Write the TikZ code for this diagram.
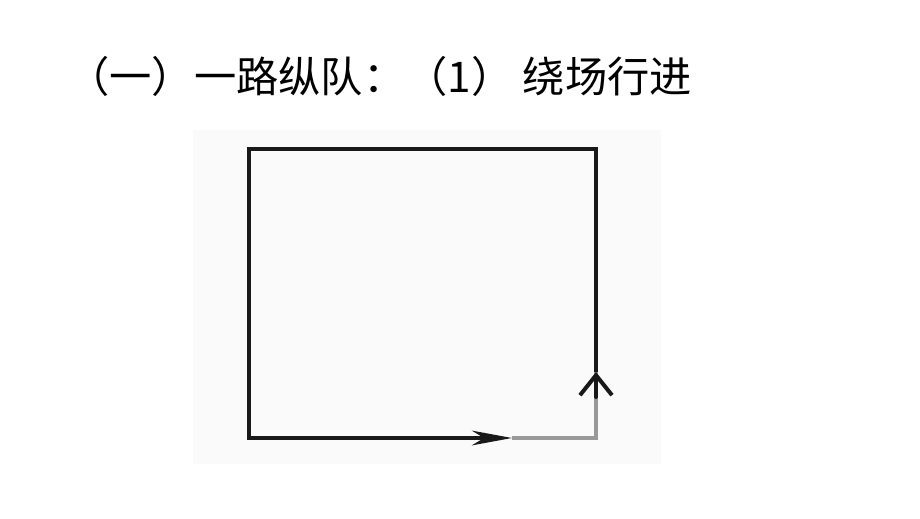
\documentclass[tikz,border=0pt]{standalone}
\usepackage{fontspec}
\newfontfamily\cjk{Noto Sans CJK SC}
\usetikzlibrary{arrows.meta}

\begin{document}
\begin{tikzpicture}[x=0.75pt, y=-0.75pt]
                \tikzset{PathStyle/.style= {line width=3pt, black!90},
                         DoneStyle/.style= {line width=3pt, black!40},
                         TitleStyle/.style= {anchor=west, inner sep=0pt, font=\cjk\fontsize{31.7pt}{38pt}\selectfont}}
                \useasboundingbox (0,0) rectangle (920,518);
                \fill[black!2] (193,130) rectangle (661,464);
                \node[TitleStyle] (title) at (67,76) {（一）一路纵队：（1） 绕场行进};
                \coordinate (TL) at (249,149);
                \coordinate (TR) at (596,149);
                \coordinate (BL) at (249,438);
                \coordinate (BR) at (596,438);
                \coordinate (A) at (512,438);
                \coordinate (B) at (596,372);
		\draw[DoneStyle] (A) -- (BR) -- (B);
		\draw[PathStyle, line join=miter, -{Stealth[length=30pt, width=11pt, inset=9pt]}] (B) -- (TR) -- (TL) -- (BL) -- (A);
		\draw[PathStyle, line cap=round, {Straight Barb[length=15pt, width=24pt, line width=3pt]}-] (B) -- ++(0,25);
            \end{tikzpicture}
\end{document}
